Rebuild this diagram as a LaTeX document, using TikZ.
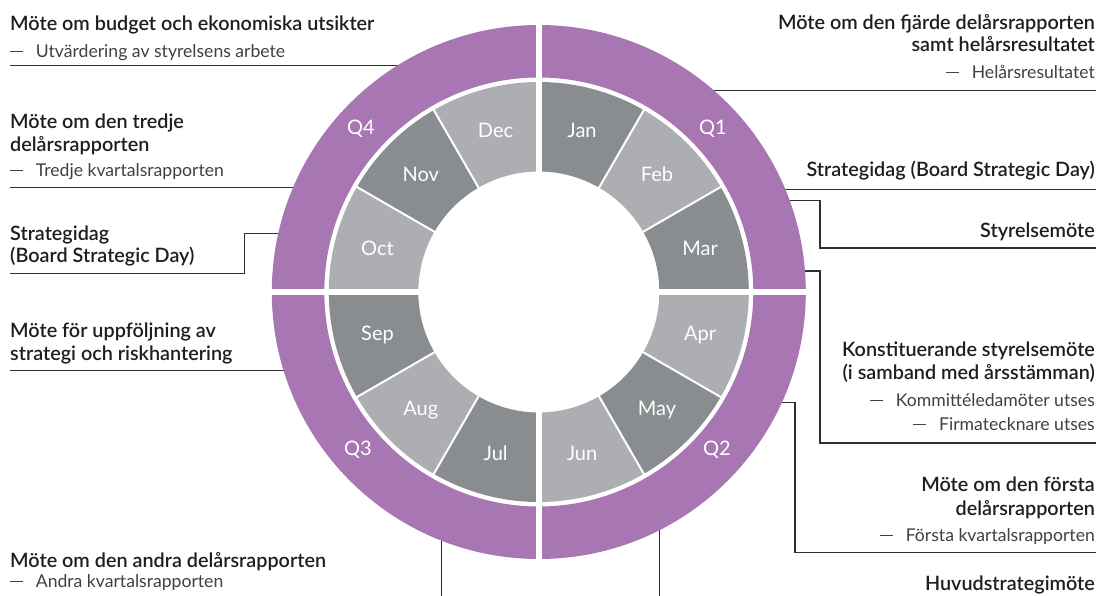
\documentclass[tikz,border=0pt]{standalone}
\usepackage{fontspec}
\setmainfont{Lato}
\IfFontExistsTF{Lato Semibold}{\newfontfamily\myttlfont{Lato Semibold}}{\newcommand\myttlfont{\bfseries}}
\newcommand\mysubfont{\rmfamily}
\definecolor{qpurple}{HTML}{A877B3}
\definecolor{mdark}{HTML}{8A8D8F}
\definecolor{mlight}{HTML}{ADAEB1}
\definecolor{titlec}{HTML}{1E1E1E}
\definecolor{subc}{HTML}{404040}
\definecolor{linec}{HTML}{2E2E2E}
\newcommand\dsh{\rule[5.5pt]{13pt}{1pt}\hspace{12.7pt}}
\begin{document}
\begin{tikzpicture}[x=1pt,y=-1pt,
  ttl/.style={font=\myttlfont\fontsize{19.8}{24}\selectfont, text=titlec, inner sep=0pt},
  sub/.style={font=\mysubfont\fontsize{17.6}{22}\selectfont, text=subc, inner sep=0pt},
  lw/.style={anchor=base west},
  le/.style={anchor=base east},
  conn/.style={draw=linec, line width=1.1pt},
  mon/.style={text=white, font=\fontsize{20}{21}\selectfont, inner sep=0pt}]
\useasboundingbox (0,0) rectangle (1099,596);

% connector end points
\coordinate (a1) at (10,65.5);   \coordinate (r1) at (402,65.5);
\coordinate (a2) at (10,187.3);  \coordinate (r2) at (298,187.3);
\coordinate (r3) at (283,233.3); \coordinate (k3) at (244.3,273.3); \coordinate (a3) at (10,273.3);
\coordinate (a10) at (10,370.7); \coordinate (r10) at (288,370.7);
\coordinate (r11) at (441.7,535); \coordinate (a11) at (441.7,596);
\coordinate (r9) at (659.3,525);  \coordinate (a9) at (659.3,596);
\coordinate (r4) at (709,90.5);   \coordinate (a4) at (1096,90.5);
\coordinate (r5) at (781,189.3);  \coordinate (a5) at (1096,189.3);
\coordinate (r6) at (785,200.3);  \coordinate (k6) at (820,248);   \coordinate (a6) at (1096,248);
\coordinate (r7) at (800,271);    \coordinate (k7) at (820,443);   \coordinate (a7) at (1096,443);
\coordinate (r8) at (776,402.5);  \coordinate (k8) at (795,552.3); \coordinate (a8) at (1096,552.3);

\draw[conn] (a1) -- (r1);
\draw[conn] (a2) -- (r2);
\draw[conn] (r3) -| (k3) -- (a3);
\draw[conn] (a10) -- (r10);
\draw[conn] (r11) -- (a11);
\draw[conn] (r9) -- (a9);
\draw[conn] (r4) -- (a4);
\draw[conn] (r5) -- (a5);
\draw[conn] (r6) -| (k6) -- (a6);
\draw[conn] (r7) -| (k7) -- (a7);
\draw[conn] (r8) -| (k8) -- (a8);

% ring
\begin{scope}[shift={(538.8,292)}]
  \fill[qpurple, even odd rule] (0pt,0pt) circle[radius=267pt] (0pt,0pt) circle[radius=214.5pt];
  \foreach \i in {0,2,...,10}{
    \fill[mdark] ({90-30*\i}:120.5pt) arc[start angle={90-30*\i}, end angle={60-30*\i}, radius=120.5pt]
      -- ({60-30*\i}:210pt) arc[start angle={60-30*\i}, end angle={90-30*\i}, radius=210pt] -- cycle;
  }
  \foreach \i in {1,3,...,11}{
    \fill[mlight] ({90-30*\i}:120.5pt) arc[start angle={90-30*\i}, end angle={60-30*\i}, radius=120.5pt]
      -- ({60-30*\i}:210pt) arc[start angle={60-30*\i}, end angle={90-30*\i}, radius=210pt] -- cycle;
  }
  \foreach \a in {30,60,120,150,210,240,300,330}{
    \draw[white, line width=2pt] (\a:118pt) -- (\a:212pt);
  }
  \draw[white, line width=5.4pt] (0pt,-270pt) -- (0pt,270pt);
  \draw[white, line width=5.4pt] (-270pt,0pt) -- (270pt,0pt);
  \node[mon] (jan) at (75:167pt) {Jan};
  \node[mon] (feb) at (45:167pt) {Feb};
  \node[mon] (mar) at (15:167pt) {Mar};
  \node[mon] (apr) at (-15:167pt) {Apr};
  \node[mon] (may) at (-45:167pt) {May};
  \node[mon] (jun) at (-75:167pt) {Jun};
  \node[mon] (jul) at (-105:167pt) {Jul};
  \node[mon] (aug) at (-135:167pt) {Aug};
  \node[mon] (sep) at (-165:167pt) {Sep};
  \node[mon] (oct) at (165:167pt) {Oct};
  \node[mon] (nov) at (135:167pt) {Nov};
  \node[mon] (dec) at (105:167pt) {Dec};
  \node[mon] (q1) at (174pt,163pt) {Q1};
  \node[mon] (q4) at (-178pt,163pt) {Q4};
  \node[mon] (q3) at (-181pt,-158pt) {Q3};
  \node[mon] (q2) at (178pt,-158pt) {Q2};
\end{scope}

% left texts
\node[ttl, lw] (t1a) at (10,31) {Möte om budget och ekonomiska utsikter};
\node[sub, lw] (t1b) at (10,58) {\dsh Utvärdering av styrelsens arbete};
\node[ttl, lw] (t2a) at (10,128.3) {Möte om den tredje};
\node[ttl, lw] (t2b) at (10,152) {delårsrapporten};
\node[sub, lw] (t2c) at (10,177) {\dsh Tredje kvartalsrapporten};
\node[ttl, lw] (t3a) at (10,240) {Strategidag};
\node[ttl, lw] (t3b) at (10,262) {(Board Strategic Day)};
\node[ttl, lw] (t10a) at (10,337) {Möte för uppföljning av};
\node[ttl, lw] (t10b) at (10,360) {strategi och riskhantering};
\node[ttl, lw] (t11a) at (10,567) {Möte om den andra delårsrapporten};
\node[sub, lw] (t11b) at (10,587.3) {\dsh Andra kvartalsrapporten};

% right texts
\node[ttl, le] (t4a) at (1095,30) {Möte om den fjärde delårsrapporten};
\node[ttl, le] (t4b) at (1095,52) {samt helårsresultatet};
\node[sub, le] (t4c) at (1095,79) {\dsh Helårsresultatet};
\node[ttl, le] (t5) at (1095,177) {Strategidag (Board Strategic Day)};
\node[ttl, le] (t6) at (1095,237.5) {Styrelsemöte};
\node[ttl, le] (t7a) at (1095,356) {Konstituerande styrelsemöte};
\node[ttl, le] (t7b) at (1095,379) {(i samband med årsstämman)};
\node[sub, le] (t7c) at (1095,406) {\dsh Kommittéledamöter utses};
\node[sub, le] (t7d) at (1095,430) {\dsh Firmatecknare utses};
\node[ttl, le] (t8a) at (1095,491) {Möte om den första};
\node[ttl, le] (t8b) at (1095,515) {delårsrapporten};
\node[sub, le] (t8c) at (1095,541.7) {\dsh Första kvartalsrapporten};
\node[ttl, le] (t9) at (1095,590) {Huvudstrategimöte};
\end{tikzpicture}
\end{document}
